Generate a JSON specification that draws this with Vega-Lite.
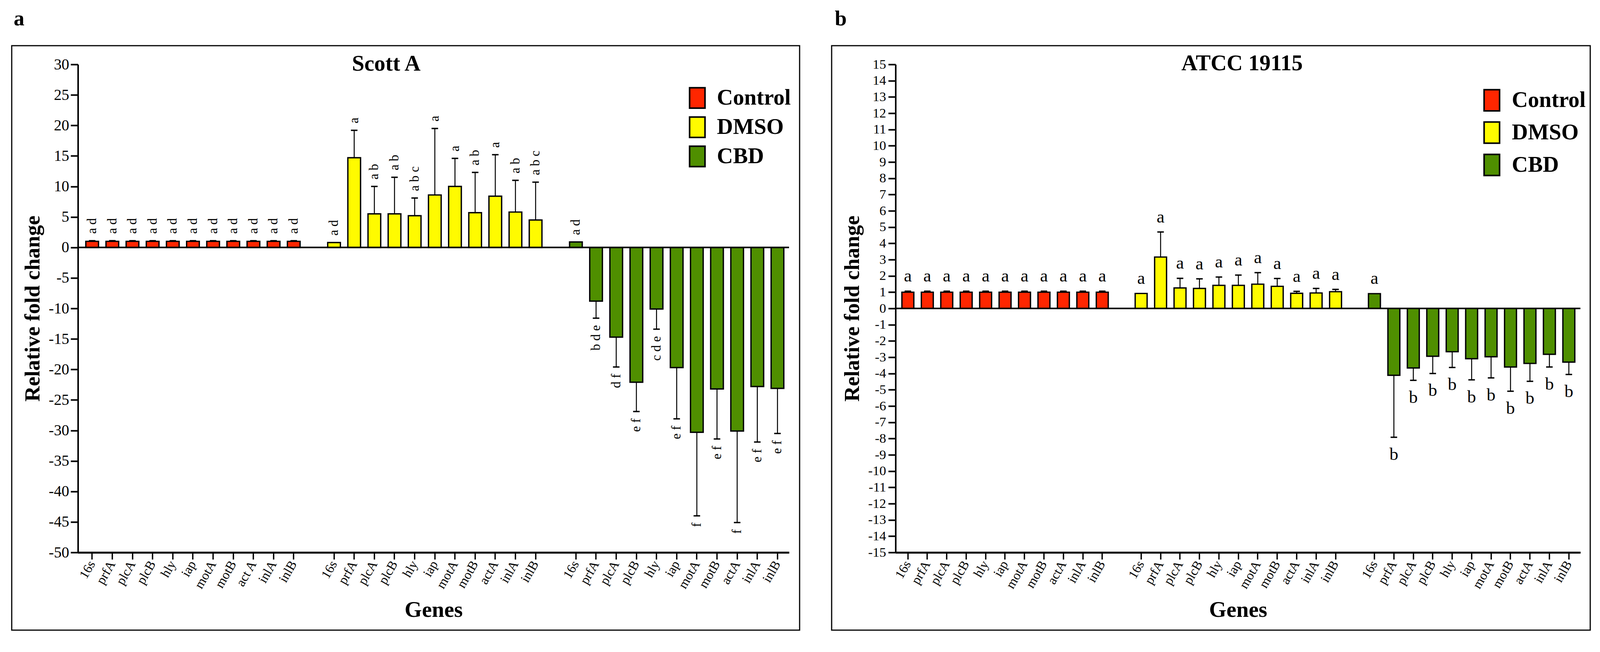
{
  "$schema": "https://vega.github.io/schema/vega-lite/v6.json",
  "background": "white",
  "padding": {"left": 28, "top": 20, "right": 0, "bottom": 0},
  "config": {
    "font": "Liberation Serif",
    "view": {"stroke": "black", "strokeWidth": 3},
    "axis": {"domainColor": "black", "tickColor": "black", "labelColor": "black", "titleColor": "black", "grid": false},
    "title": {"color": "black"}
  },
  "resolve": {"scale": {"color": "independent"}, "legend": {"color": "independent"}},
  "spacing": 78,
  "datasets": {
    "a": [
      {"treat": "Control", "gene": "16s", "key": "Control|16s", "value": 1.0, "err": 1.1, "sig": "a d"},
      {"treat": "Control", "gene": "prfA", "key": "Control|prfA", "value": 1.0, "err": 1.1, "sig": "a d"},
      {"treat": "Control", "gene": "plcA", "key": "Control|plcA", "value": 1.0, "err": 1.1, "sig": "a d"},
      {"treat": "Control", "gene": "plcB", "key": "Control|plcB", "value": 1.0, "err": 1.1, "sig": "a d"},
      {"treat": "Control", "gene": "hly", "key": "Control|hly", "value": 1.0, "err": 1.1, "sig": "a d"},
      {"treat": "Control", "gene": "iap", "key": "Control|iap", "value": 1.0, "err": 1.1, "sig": "a d"},
      {"treat": "Control", "gene": "motA", "key": "Control|motA", "value": 1.0, "err": 1.1, "sig": "a d"},
      {"treat": "Control", "gene": "motB", "key": "Control|motB", "value": 1.0, "err": 1.1, "sig": "a d"},
      {"treat": "Control", "gene": "act A", "key": "Control|act A", "value": 1.0, "err": 1.1, "sig": "a d"},
      {"treat": "Control", "gene": "inlA", "key": "Control|inlA", "value": 1.0, "err": 1.1, "sig": "a d"},
      {"treat": "Control", "gene": "inlB", "key": "Control|inlB", "value": 1.0, "err": 1.1, "sig": "a d"},
      {"treat": "DMSO", "gene": "16s", "key": "DMSO|16s", "value": 0.8, "err": 0.8, "sig": "a d"},
      {"treat": "DMSO", "gene": "prfA", "key": "DMSO|prfA", "value": 14.7, "err": 19.2, "sig": "a"},
      {"treat": "DMSO", "gene": "plcA", "key": "DMSO|plcA", "value": 5.5, "err": 10.0, "sig": "a b"},
      {"treat": "DMSO", "gene": "plcB", "key": "DMSO|plcB", "value": 5.5, "err": 11.5, "sig": "a b"},
      {"treat": "DMSO", "gene": "hly", "key": "DMSO|hly", "value": 5.2, "err": 8.1, "sig": "a b c"},
      {"treat": "DMSO", "gene": "iap", "key": "DMSO|iap", "value": 8.6, "err": 19.5, "sig": "a"},
      {"treat": "DMSO", "gene": "motA", "key": "DMSO|motA", "value": 10.0, "err": 14.6, "sig": "a"},
      {"treat": "DMSO", "gene": "motB", "key": "DMSO|motB", "value": 5.7, "err": 12.3, "sig": "a b"},
      {"treat": "DMSO", "gene": "actA", "key": "DMSO|actA", "value": 8.4, "err": 15.2, "sig": "a"},
      {"treat": "DMSO", "gene": "inlA", "key": "DMSO|inlA", "value": 5.8, "err": 11.0, "sig": "a b"},
      {"treat": "DMSO", "gene": "inlB", "key": "DMSO|inlB", "value": 4.5, "err": 10.7, "sig": "a b c"},
      {"treat": "CBD", "gene": "16s", "key": "CBD|16s", "value": 0.9, "err": 0.9, "sig": "a d"},
      {"treat": "CBD", "gene": "prfA", "key": "CBD|prfA", "value": -8.8, "err": -11.6, "sig": "b d e"},
      {"treat": "CBD", "gene": "plcA", "key": "CBD|plcA", "value": -14.7, "err": -19.6, "sig": "d f"},
      {"treat": "CBD", "gene": "plcB", "key": "CBD|plcB", "value": -22.1, "err": -26.9, "sig": "e f"},
      {"treat": "CBD", "gene": "hly", "key": "CBD|hly", "value": -10.1, "err": -13.4, "sig": "c d e"},
      {"treat": "CBD", "gene": "iap", "key": "CBD|iap", "value": -19.7, "err": -28.1, "sig": "e f"},
      {"treat": "CBD", "gene": "motA", "key": "CBD|motA", "value": -30.3, "err": -44.0, "sig": "f"},
      {"treat": "CBD", "gene": "motB", "key": "CBD|motB", "value": -23.2, "err": -31.4, "sig": "e f"},
      {"treat": "CBD", "gene": "actA", "key": "CBD|actA", "value": -30.1, "err": -45.1, "sig": "f"},
      {"treat": "CBD", "gene": "inlA", "key": "CBD|inlA", "value": -22.8, "err": -31.9, "sig": "e f"},
      {"treat": "CBD", "gene": "inlB", "key": "CBD|inlB", "value": -23.1, "err": -30.5, "sig": "e f"}
    ],
    "b": [
      {"treat": "Control", "gene": "16s", "key": "Control|16s", "value": 1.0, "err": 1.06, "sig": "a"},
      {"treat": "Control", "gene": "prfA", "key": "Control|prfA", "value": 1.0, "err": 1.06, "sig": "a"},
      {"treat": "Control", "gene": "plcA", "key": "Control|plcA", "value": 1.0, "err": 1.06, "sig": "a"},
      {"treat": "Control", "gene": "plcB", "key": "Control|plcB", "value": 1.0, "err": 1.06, "sig": "a"},
      {"treat": "Control", "gene": "hly", "key": "Control|hly", "value": 1.0, "err": 1.06, "sig": "a"},
      {"treat": "Control", "gene": "iap", "key": "Control|iap", "value": 1.0, "err": 1.06, "sig": "a"},
      {"treat": "Control", "gene": "motA", "key": "Control|motA", "value": 1.0, "err": 1.06, "sig": "a"},
      {"treat": "Control", "gene": "motB", "key": "Control|motB", "value": 1.0, "err": 1.06, "sig": "a"},
      {"treat": "Control", "gene": "actA", "key": "Control|actA", "value": 1.0, "err": 1.06, "sig": "a"},
      {"treat": "Control", "gene": "inlA", "key": "Control|inlA", "value": 1.0, "err": 1.06, "sig": "a"},
      {"treat": "Control", "gene": "inlB", "key": "Control|inlB", "value": 1.0, "err": 1.06, "sig": "a"},
      {"treat": "DMSO", "gene": "16s", "key": "DMSO|16s", "value": 0.92, "err": 0.92, "sig": "a"},
      {"treat": "DMSO", "gene": "prfA", "key": "DMSO|prfA", "value": 3.16, "err": 4.7, "sig": "a"},
      {"treat": "DMSO", "gene": "plcA", "key": "DMSO|plcA", "value": 1.26, "err": 1.85, "sig": "a"},
      {"treat": "DMSO", "gene": "plcB", "key": "DMSO|plcB", "value": 1.23, "err": 1.82, "sig": "a"},
      {"treat": "DMSO", "gene": "hly", "key": "DMSO|hly", "value": 1.42, "err": 1.93, "sig": "a"},
      {"treat": "DMSO", "gene": "iap", "key": "DMSO|iap", "value": 1.42, "err": 2.05, "sig": "a"},
      {"treat": "DMSO", "gene": "motA", "key": "DMSO|motA", "value": 1.49, "err": 2.2, "sig": "a"},
      {"treat": "DMSO", "gene": "motB", "key": "DMSO|motB", "value": 1.36, "err": 1.84, "sig": "a"},
      {"treat": "DMSO", "gene": "actA", "key": "DMSO|actA", "value": 0.93, "err": 1.05, "sig": "a"},
      {"treat": "DMSO", "gene": "inlA", "key": "DMSO|inlA", "value": 0.95, "err": 1.23, "sig": "a"},
      {"treat": "DMSO", "gene": "inlB", "key": "DMSO|inlB", "value": 1.03, "err": 1.17, "sig": "a"},
      {"treat": "CBD", "gene": "16s", "key": "CBD|16s", "value": 0.91, "err": 0.91, "sig": "a"},
      {"treat": "CBD", "gene": "prfA", "key": "CBD|prfA", "value": -4.11, "err": -7.92, "sig": "b"},
      {"treat": "CBD", "gene": "plcA", "key": "CBD|plcA", "value": -3.66, "err": -4.42, "sig": "b"},
      {"treat": "CBD", "gene": "plcB", "key": "CBD|plcB", "value": -2.94, "err": -4.0, "sig": "b"},
      {"treat": "CBD", "gene": "hly", "key": "CBD|hly", "value": -2.66, "err": -3.63, "sig": "b"},
      {"treat": "CBD", "gene": "iap", "key": "CBD|iap", "value": -3.09, "err": -4.39, "sig": "b"},
      {"treat": "CBD", "gene": "motA", "key": "CBD|motA", "value": -2.97, "err": -4.27, "sig": "b"},
      {"treat": "CBD", "gene": "motB", "key": "CBD|motB", "value": -3.6, "err": -5.09, "sig": "b"},
      {"treat": "CBD", "gene": "actA", "key": "CBD|actA", "value": -3.38, "err": -4.48, "sig": "b"},
      {"treat": "CBD", "gene": "inlA", "key": "CBD|inlA", "value": -2.82, "err": -3.6, "sig": "b"},
      {"treat": "CBD", "gene": "inlB", "key": "CBD|inlB", "value": -3.3, "err": -4.06, "sig": "b"}
    ]
  },
  "hconcat": [
    {
      "title": {"text": "a", "anchor": "start", "frame": "group", "fontSize": 55, "fontWeight": "bold", "offset": -4, "baseline": "alphabetic", "dx": 5},
      "vconcat": [
        {
          "width": 2017,
          "height": 1497,
          "data": {"name": "a"},
          "encoding": {
            "x": {
              "field": "key", "type": "nominal",
              "scale": {
                "domain": ["Control|16s", "Control|prfA", "Control|plcA", "Control|plcB", "Control|hly", "Control|iap", "Control|motA", "Control|motB", "Control|act A", "Control|inlA", "Control|inlB", "gap1", "DMSO|16s", "DMSO|prfA", "DMSO|plcA", "DMSO|plcB", "DMSO|hly", "DMSO|iap", "DMSO|motA", "DMSO|motB", "DMSO|actA", "DMSO|inlA", "DMSO|inlB", "gap2", "CBD|16s", "CBD|prfA", "CBD|plcA", "CBD|plcB", "CBD|hly", "CBD|iap", "CBD|motA", "CBD|motB", "CBD|actA", "CBD|inlA", "CBD|inlB"],
                "range": [169.5, 1990], "paddingInner": 0.37, "paddingOuter": 0.326, "align": 0.601
              },
              "axis": {
                "orient": "bottom", "offset": -199,
                "values": ["Control|16s", "Control|prfA", "Control|plcA", "Control|plcB", "Control|hly", "Control|iap", "Control|motA", "Control|motB", "Control|act A", "Control|inlA", "Control|inlB", "DMSO|16s", "DMSO|prfA", "DMSO|plcA", "DMSO|plcB", "DMSO|hly", "DMSO|iap", "DMSO|motA", "DMSO|motB", "DMSO|actA", "DMSO|inlA", "DMSO|inlB", "CBD|16s", "CBD|prfA", "CBD|plcA", "CBD|plcB", "CBD|hly", "CBD|iap", "CBD|motA", "CBD|motB", "CBD|actA", "CBD|inlA", "CBD|inlB"],
                "labelExpr": "split(datum.value, '|')[1]",
                "labelAngle": -60, "labelAlign": "right", "labelBaseline": "middle", "labelFontSize": 33.5, "labelPadding": 6,
                "labelOverlap": false, "labelBound": false, "labelFlush": false,
                "tickSize": 17.7, "tickWidth": 3.5, "domainWidth": 5,
                "title": "Genes", "titleFontSize": 57, "titleFontWeight": "bold", "titlePadding": 21.7
              }
            }
          },
          "layer": [
            {
              "mark": {"type": "bar", "stroke": "black", "strokeWidth": 3.4},
              "encoding": {
                "y": {
                  "field": "value", "type": "quantitative",
                  "scale": {"domain": [-50, 30], "range": [1298, 48], "nice": false, "zero": false},
                  "axis": {"values": [-50, -45, -40, -35, -30, -25, -20, -15, -10, -5, 0, 5, 10, 15, 20, 25, 30], "labelExpr": "'' + datum.value", "offset": -169.5, "tickSize": 18.7, "tickWidth": 4, "domainWidth": 4, "labelFontSize": 39.4, "labelPadding": 4, "labelFlush": false, "labelOverlap": false, "title": "Relative fold change", "titleFontSize": 55, "titleFontWeight": "bold", "titlePadding": 11.8}
                },
                "y2": {"datum": 0},
                "color": {
                  "field": "treat", "type": "nominal",
                  "scale": {"domain": ["Control", "DMSO", "CBD"], "range": ["#ff2600", "#fffb00", "#4f8f00"]},
                  "legend": {
                    "orient": "none", "legendX": 1726.6, "legendY": 105.4, "title": null,
                    "symbolType": "M-0.755,-1H0.755V1H-0.755Z", "symbolSize": 2725,
                    "symbolStrokeColor": "black", "symbolStrokeWidth": 4, "symbolOpacity": 1,
                    "labelFontSize": 57, "labelFontWeight": "bold", "labelColor": "black", "labelLimit": 500,
                    "labelOffset": 21.7, "rowPadding": 5.9, "padding": 0
                  }
                }
              }
            },
            {
              "data": {"values": [{}]},
              "mark": {"type": "rule", "strokeWidth": 4, "color": "black"},
              "encoding": {
                "x": {"datum": "Control|16s", "bandPosition": -0.62},
                "x2": {"datum": "CBD|inlB", "bandPosition": 1.41},
                "y": {"datum": 0, "type": "quantitative", "scale": {"domain": [-50, 30], "range": [1298, 48], "nice": false, "zero": false},
                  "axis": {"values": [-50, -45, -40, -35, -30, -25, -20, -15, -10, -5, 0, 5, 10, 15, 20, 25, 30], "labelExpr": "'' + datum.value", "offset": -169.5, "tickSize": 18.7, "tickWidth": 4, "domainWidth": 4, "labelFontSize": 39.4, "labelPadding": 4, "labelFlush": false, "labelOverlap": false, "title": "Relative fold change", "titleFontSize": 55, "titleFontWeight": "bold", "titlePadding": 11.8}}
              }
            },
            {
              "data": {"values": [{"title": "Scott A"}]},
              "mark": {"type": "text", "fontSize": 57, "fontWeight": "bold", "align": "center", "baseline": "alphabetic", "color": "black"},
              "encoding": {
                "x": {"datum": "DMSO|plcA", "bandPosition": 1.44},
                "y": {"datum": 29.0, "type": "quantitative", "scale": {"domain": [-50, 30], "range": [1298, 48], "nice": false, "zero": false},
                  "axis": {"values": [-50, -45, -40, -35, -30, -25, -20, -15, -10, -5, 0, 5, 10, 15, 20, 25, 30], "labelExpr": "'' + datum.value", "offset": -169.5, "tickSize": 18.7, "tickWidth": 4, "domainWidth": 4, "labelFontSize": 39.4, "labelPadding": 4, "labelFlush": false, "labelOverlap": false, "title": "Relative fold change", "titleFontSize": 55, "titleFontWeight": "bold", "titlePadding": 11.8}},
                "text": {"field": "title"}
              }
            },
            {
              "transform": [{"filter": "datum.err != datum.value"}],
              "mark": {"type": "rule", "strokeWidth": 2.5, "color": "black"},
              "encoding": {
                "y": {"field": "value", "type": "quantitative", "scale": {"domain": [-50, 30], "range": [1298, 48], "nice": false, "zero": false},
                  "axis": {"values": [-50, -45, -40, -35, -30, -25, -20, -15, -10, -5, 0, 5, 10, 15, 20, 25, 30], "labelExpr": "'' + datum.value", "offset": -169.5, "tickSize": 18.7, "tickWidth": 4, "domainWidth": 4, "labelFontSize": 39.4, "labelPadding": 4, "labelFlush": false, "labelOverlap": false, "title": "Relative fold change", "titleFontSize": 55, "titleFontWeight": "bold", "titlePadding": 11.8}},
                "y2": {"field": "err"}
              }
            },
            {
              "transform": [{"filter": "datum.err != datum.value"}],
              "mark": {"type": "tick", "orient": "horizontal", "size": 16.75, "thickness": 3.5, "color": "black", "opacity": 1},
              "encoding": {
                "y": {"field": "err", "type": "quantitative", "scale": {"domain": [-50, 30], "range": [1298, 48], "nice": false, "zero": false},
                  "axis": {"values": [-50, -45, -40, -35, -30, -25, -20, -15, -10, -5, 0, 5, 10, 15, 20, 25, 30], "labelExpr": "'' + datum.value", "offset": -169.5, "tickSize": 18.7, "tickWidth": 4, "domainWidth": 4, "labelFontSize": 39.4, "labelPadding": 4, "labelFlush": false, "labelOverlap": false, "title": "Relative fold change", "titleFontSize": 55, "titleFontWeight": "bold", "titlePadding": 11.8}}
              }
            },
            {
              "transform": [{"filter": "datum.value >= 0"}],
              "mark": {"type": "text", "angle": 270, "align": "left", "baseline": "middle", "dx": 17.7, "fontSize": 33.5, "color": "black"},
              "encoding": {
                "y": {"field": "err", "type": "quantitative", "scale": {"domain": [-50, 30], "range": [1298, 48], "nice": false, "zero": false},
                  "axis": {"values": [-50, -45, -40, -35, -30, -25, -20, -15, -10, -5, 0, 5, 10, 15, 20, 25, 30], "labelExpr": "'' + datum.value", "offset": -169.5, "tickSize": 18.7, "tickWidth": 4, "domainWidth": 4, "labelFontSize": 39.4, "labelPadding": 4, "labelFlush": false, "labelOverlap": false, "title": "Relative fold change", "titleFontSize": 55, "titleFontWeight": "bold", "titlePadding": 11.8}},
                "text": {"field": "sig"}
              }
            },
            {
              "transform": [{"filter": "datum.value < 0"}],
              "mark": {"type": "text", "angle": 270, "align": "right", "baseline": "middle", "dx": -17.7, "fontSize": 33.5, "color": "black"},
              "encoding": {
                "y": {"field": "err", "type": "quantitative", "scale": {"domain": [-50, 30], "range": [1298, 48], "nice": false, "zero": false},
                  "axis": {"values": [-50, -45, -40, -35, -30, -25, -20, -15, -10, -5, 0, 5, 10, 15, 20, 25, 30], "labelExpr": "'' + datum.value", "offset": -169.5, "tickSize": 18.7, "tickWidth": 4, "domainWidth": 4, "labelFontSize": 39.4, "labelPadding": 4, "labelFlush": false, "labelOverlap": false, "title": "Relative fold change", "titleFontSize": 55, "titleFontWeight": "bold", "titlePadding": 11.8}},
                "text": {"field": "sig"}
              }
            }
          ]
        }
      ]
    },
    {
      "title": {"text": "b", "anchor": "start", "frame": "group", "fontSize": 55, "fontWeight": "bold", "offset": -4, "baseline": "alphabetic", "dx": 8},
      "vconcat": [
        {
          "width": 1942,
          "height": 1497,
          "data": {"name": "b"},
          "encoding": {
            "x": {
              "field": "key", "type": "nominal",
              "scale": {
                "domain": ["Control|16s", "Control|prfA", "Control|plcA", "Control|plcB", "Control|hly", "Control|iap", "Control|motA", "Control|motB", "Control|actA", "Control|inlA", "Control|inlB", "gap1", "DMSO|16s", "DMSO|prfA", "DMSO|plcA", "DMSO|plcB", "DMSO|hly", "DMSO|iap", "DMSO|motA", "DMSO|motB", "DMSO|actA", "DMSO|inlA", "DMSO|inlB", "gap2", "CBD|16s", "CBD|prfA", "CBD|plcA", "CBD|plcB", "CBD|hly", "CBD|iap", "CBD|motA", "CBD|motB", "CBD|actA", "CBD|inlA", "CBD|inlB"],
                "range": [163.6, 1916.8], "paddingInner": 0.386, "paddingOuter": 0.307, "align": 0.532
              },
              "axis": {
                "orient": "bottom", "offset": -199,
                "values": ["Control|16s", "Control|prfA", "Control|plcA", "Control|plcB", "Control|hly", "Control|iap", "Control|motA", "Control|motB", "Control|actA", "Control|inlA", "Control|inlB", "DMSO|16s", "DMSO|prfA", "DMSO|plcA", "DMSO|plcB", "DMSO|hly", "DMSO|iap", "DMSO|motA", "DMSO|motB", "DMSO|actA", "DMSO|inlA", "DMSO|inlB", "CBD|16s", "CBD|prfA", "CBD|plcA", "CBD|plcB", "CBD|hly", "CBD|iap", "CBD|motA", "CBD|motB", "CBD|actA", "CBD|inlA", "CBD|inlB"],
                "labelExpr": "split(datum.value, '|')[1]",
                "labelAngle": -60, "labelAlign": "right", "labelBaseline": "middle", "labelFontSize": 33.5, "labelPadding": 6,
                "labelOverlap": false, "labelBound": false, "labelFlush": false,
                "tickSize": 17.7, "tickWidth": 3.5, "domainWidth": 5,
                "title": "Genes", "titleFontSize": 57, "titleFontWeight": "bold", "titlePadding": 21.7
              }
            }
          },
          "layer": [
            {
              "mark": {"type": "bar", "stroke": "black", "strokeWidth": 3.4},
              "encoding": {
                "y": {
                  "field": "value", "type": "quantitative",
                  "scale": {"domain": [-15, 15], "range": [1298, 48], "nice": false, "zero": false},
                  "axis": {"values": [-15, -14, -13, -12, -11, -10, -9, -8, -7, -6, -5, -4, -3, -2, -1, 0, 1, 2, 3, 4, 5, 6, 7, 8, 9, 10, 11, 12, 13, 14, 15], "labelExpr": "'' + datum.value", "offset": -163.6, "tickSize": 18.7, "tickWidth": 4, "domainWidth": 4, "labelFontSize": 34.5, "labelPadding": 5.9, "labelFlush": false, "labelOverlap": false, "title": "Relative fold change", "titleFontSize": 55, "titleFontWeight": "bold", "titlePadding": 11.8}
                },
                "y2": {"datum": 0},
                "color": {
                  "field": "treat", "type": "nominal",
                  "scale": {"domain": ["Control", "DMSO", "CBD"], "range": ["#ff2600", "#fffb00", "#4f8f00"]},
                  "legend": {
                    "orient": "none", "legendX": 1660.6, "legendY": 110.4, "title": null,
                    "symbolType": "M-0.73,-1H0.73V1H-0.73Z", "symbolSize": 2938,
                    "symbolStrokeColor": "black", "symbolStrokeWidth": 4, "symbolOpacity": 1,
                    "labelFontSize": 57, "labelFontWeight": "bold", "labelColor": "black", "labelLimit": 500,
                    "labelOffset": 21.7, "rowPadding": 11.8, "padding": 0
                  }
                }
              }
            },
            {
              "data": {"values": [{}]},
              "mark": {"type": "rule", "strokeWidth": 4, "color": "black"},
              "encoding": {
                "x": {"datum": "Control|16s", "bandPosition": -0.532},
                "x2": {"datum": "CBD|inlB", "bandPosition": 1.468},
                "y": {"datum": 0, "type": "quantitative", "scale": {"domain": [-15, 15], "range": [1298, 48], "nice": false, "zero": false},
                  "axis": {"values": [-15, -14, -13, -12, -11, -10, -9, -8, -7, -6, -5, -4, -3, -2, -1, 0, 1, 2, 3, 4, 5, 6, 7, 8, 9, 10, 11, 12, 13, 14, 15], "labelExpr": "'' + datum.value", "offset": -163.6, "tickSize": 18.7, "tickWidth": 4, "domainWidth": 4, "labelFontSize": 34.5, "labelPadding": 5.9, "labelFlush": false, "labelOverlap": false, "title": "Relative fold change", "titleFontSize": 55, "titleFontWeight": "bold", "titlePadding": 11.8}}
              }
            },
            {
              "data": {"values": [{"title": "ATCC 19115"}]},
              "mark": {"type": "text", "fontSize": 57, "fontWeight": "bold", "align": "center", "baseline": "alphabetic", "color": "black"},
              "encoding": {
                "x": {"datum": "DMSO|iap", "bandPosition": 0.81},
                "y": {"datum": 14.64, "type": "quantitative", "scale": {"domain": [-15, 15], "range": [1298, 48], "nice": false, "zero": false},
                  "axis": {"values": [-15, -14, -13, -12, -11, -10, -9, -8, -7, -6, -5, -4, -3, -2, -1, 0, 1, 2, 3, 4, 5, 6, 7, 8, 9, 10, 11, 12, 13, 14, 15], "labelExpr": "'' + datum.value", "offset": -163.6, "tickSize": 18.7, "tickWidth": 4, "domainWidth": 4, "labelFontSize": 34.5, "labelPadding": 5.9, "labelFlush": false, "labelOverlap": false, "title": "Relative fold change", "titleFontSize": 55, "titleFontWeight": "bold", "titlePadding": 11.8}},
                "text": {"field": "title"}
              }
            },
            {
              "transform": [{"filter": "datum.err != datum.value"}],
              "mark": {"type": "rule", "strokeWidth": 2.5, "color": "black"},
              "encoding": {
                "y": {"field": "value", "type": "quantitative", "scale": {"domain": [-15, 15], "range": [1298, 48], "nice": false, "zero": false},
                  "axis": {"values": [-15, -14, -13, -12, -11, -10, -9, -8, -7, -6, -5, -4, -3, -2, -1, 0, 1, 2, 3, 4, 5, 6, 7, 8, 9, 10, 11, 12, 13, 14, 15], "labelExpr": "'' + datum.value", "offset": -163.6, "tickSize": 18.7, "tickWidth": 4, "domainWidth": 4, "labelFontSize": 34.5, "labelPadding": 5.9, "labelFlush": false, "labelOverlap": false, "title": "Relative fold change", "titleFontSize": 55, "titleFontWeight": "bold", "titlePadding": 11.8}},
                "y2": {"field": "err"}
              }
            },
            {
              "transform": [{"filter": "datum.err != datum.value"}],
              "mark": {"type": "tick", "orient": "horizontal", "size": 16.75, "thickness": 3.5, "color": "black", "opacity": 1},
              "encoding": {
                "y": {"field": "err", "type": "quantitative", "scale": {"domain": [-15, 15], "range": [1298, 48], "nice": false, "zero": false},
                  "axis": {"values": [-15, -14, -13, -12, -11, -10, -9, -8, -7, -6, -5, -4, -3, -2, -1, 0, 1, 2, 3, 4, 5, 6, 7, 8, 9, 10, 11, 12, 13, 14, 15], "labelExpr": "'' + datum.value", "offset": -163.6, "tickSize": 18.7, "tickWidth": 4, "domainWidth": 4, "labelFontSize": 34.5, "labelPadding": 5.9, "labelFlush": false, "labelOverlap": false, "title": "Relative fold change", "titleFontSize": 55, "titleFontWeight": "bold", "titlePadding": 11.8}}
              }
            },
            {
              "transform": [{"filter": "datum.value >= 0"}],
              "mark": {"type": "text", "align": "center", "baseline": "alphabetic", "dy": -24.6, "fontSize": 45.3, "color": "black"},
              "encoding": {
                "y": {"field": "err", "type": "quantitative", "scale": {"domain": [-15, 15], "range": [1298, 48], "nice": false, "zero": false},
                  "axis": {"values": [-15, -14, -13, -12, -11, -10, -9, -8, -7, -6, -5, -4, -3, -2, -1, 0, 1, 2, 3, 4, 5, 6, 7, 8, 9, 10, 11, 12, 13, 14, 15], "labelExpr": "'' + datum.value", "offset": -163.6, "tickSize": 18.7, "tickWidth": 4, "domainWidth": 4, "labelFontSize": 34.5, "labelPadding": 5.9, "labelFlush": false, "labelOverlap": false, "title": "Relative fold change", "titleFontSize": 55, "titleFontWeight": "bold", "titlePadding": 11.8}},
                "text": {"field": "sig"}
              }
            },
            {
              "transform": [{"filter": "datum.value < 0"}],
              "mark": {"type": "text", "align": "center", "baseline": "top", "dy": 21.7, "fontSize": 45.3, "color": "black"},
              "encoding": {
                "y": {"field": "err", "type": "quantitative", "scale": {"domain": [-15, 15], "range": [1298, 48], "nice": false, "zero": false},
                  "axis": {"values": [-15, -14, -13, -12, -11, -10, -9, -8, -7, -6, -5, -4, -3, -2, -1, 0, 1, 2, 3, 4, 5, 6, 7, 8, 9, 10, 11, 12, 13, 14, 15], "labelExpr": "'' + datum.value", "offset": -163.6, "tickSize": 18.7, "tickWidth": 4, "domainWidth": 4, "labelFontSize": 34.5, "labelPadding": 5.9, "labelFlush": false, "labelOverlap": false, "title": "Relative fold change", "titleFontSize": 55, "titleFontWeight": "bold", "titlePadding": 11.8}},
                "text": {"field": "sig"}
              }
            }
          ]
        }
      ]
    }
  ]
}
